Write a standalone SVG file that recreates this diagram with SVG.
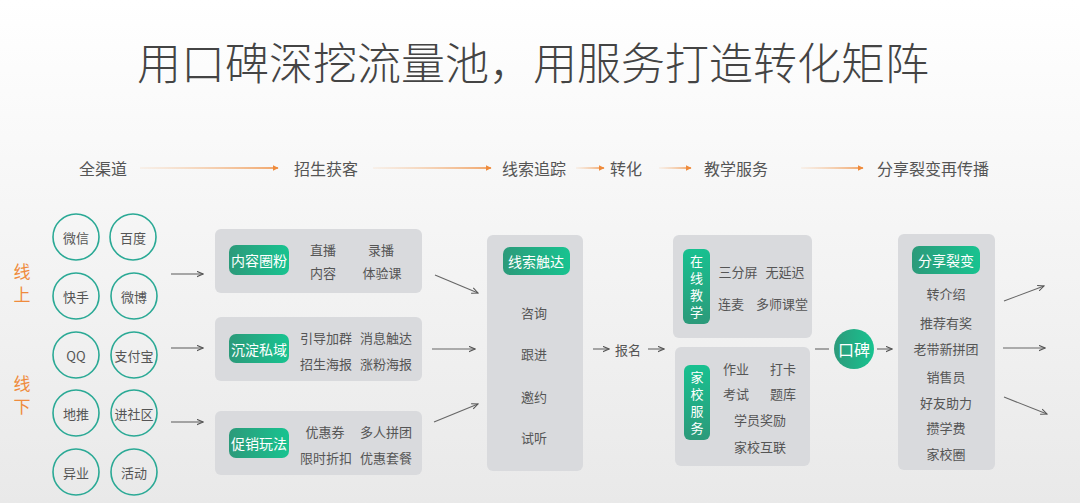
<svg xmlns="http://www.w3.org/2000/svg" width="1080" height="503" viewBox="0 0 1080 503">
<defs>
<linearGradient id="bg" x1="0" y1="0" x2="0" y2="1">
<stop offset="0" stop-color="#ffffff"/>
<stop offset="1" stop-color="#e9e9e9"/>
</linearGradient>
<linearGradient id="grn" x1="0" y1="0" x2="1" y2="0">
<stop offset="0" stop-color="#2c9a7a"/>
<stop offset="1" stop-color="#18c390"/>
</linearGradient>
<linearGradient id="grnv" x1="0" y1="0" x2="0" y2="1">
<stop offset="0" stop-color="#18c090"/>
<stop offset="1" stop-color="#2c9a7a"/>
</linearGradient>
<linearGradient id="org" x1="0" y1="0" x2="1" y2="0">
<stop offset="0" stop-color="#f3b27a" stop-opacity="0.15"/>
<stop offset="1" stop-color="#ef8b3c"/>
</linearGradient>
<marker id="ao" viewBox="0 0 10 10" refX="9" refY="5" markerWidth="6" markerHeight="6" orient="auto" markerUnits="userSpaceOnUse">
<path d="M0,0 L10,5 L0,10 z" fill="#ef8b3c"/>
</marker>
<marker id="ag" viewBox="0 0 10 10" refX="9" refY="5" markerWidth="7" markerHeight="7" orient="auto" markerUnits="userSpaceOnUse">
<path d="M0,1 L9,5 L0,9" fill="none" stroke="#555" stroke-width="1.5"/>
</marker>
</defs>
<style>
text{font-family:"Noto Sans CJK SC","Noto Sans",sans-serif;fill:#555;dominant-baseline:central;text-anchor:middle}
.title{font-size:44px;font-weight:300;fill:#444}
.hd{font-size:16px}
.side{font-size:17px;fill:#ef8b3c}
.ct{font-size:13px}
.it{font-size:13px}
.wt{font-size:14px;fill:#fff}
.vt{font-size:13px;fill:#fff;writing-mode:vertical-rl;letter-spacing:4px}
.circ{fill:none;stroke:#2aa995;stroke-width:1.6}
.box{fill:#d9dadd}
.hl{stroke:url(#org);stroke-width:1.6;fill:none}
.cn{stroke:#666;stroke-width:1.1;fill:none}
</style>
<rect x="0" y="0" width="1080" height="503" fill="url(#bg)"/>
<text class="title" x="533" y="61">用口碑深挖流量池，用服务打造转化矩阵</text>

<g id="header">
<text class="hd" x="103" y="168">全渠道</text>
<text class="hd" x="326" y="168">招生获客</text>
<text class="hd" x="534" y="168">线索追踪</text>
<text class="hd" x="626" y="168">转化</text>
<text class="hd" x="736" y="168">教学服务</text>
<text class="hd" x="933" y="168">分享裂变再传播</text>
</g>

<g id="side-labels">
<text class="side" x="22" y="270">线</text>
<text class="side" x="22" y="293">上</text>
<text class="side" x="22" y="382">线</text>
<text class="side" x="22" y="405">下</text>
</g>

<g id="channels">
<circle class="circ" cx="76" cy="237" r="23"/><text class="ct" x="76" y="237">微信</text>
<circle class="circ" cx="133" cy="237" r="23"/><text class="ct" x="133" y="237">百度</text>
<circle class="circ" cx="76" cy="296" r="23"/><text class="ct" x="76" y="296">快手</text>
<circle class="circ" cx="134" cy="296" r="23"/><text class="ct" x="134" y="296">微博</text>
<circle class="circ" cx="76" cy="355" r="23"/><text class="ct" x="76" y="355">QQ</text>
<circle class="circ" cx="134" cy="355" r="23"/><text class="ct" x="134" y="355">支付宝</text>
<circle class="circ" cx="76" cy="413" r="23"/><text class="ct" x="76" y="413">地推</text>
<circle class="circ" cx="134" cy="413" r="23"/><text class="ct" x="134" y="413">进社区</text>
<circle class="circ" cx="76" cy="472" r="23"/><text class="ct" x="76" y="472">异业</text>
<circle class="circ" cx="134" cy="472" r="23"/><text class="ct" x="134" y="472">活动</text>
</g>

<g id="box-content">
<rect class="box" x="215" y="229" width="207" height="64" rx="6"/>
<rect x="229" y="245" width="60" height="30" rx="7" fill="url(#grn)"/>
<text class="wt" x="259" y="260">内容圈粉</text>
<text class="it" x="323" y="249">直播</text>
<text class="it" x="381" y="249">录播</text>
<text class="it" x="323" y="272">内容</text>
<text class="it" x="382" y="272">体验课</text>
</g>
<g id="box-private">
<rect class="box" x="215" y="317" width="207" height="64" rx="6"/>
<rect x="229" y="334" width="60" height="29" rx="7" fill="url(#grn)"/>
<text class="wt" x="259" y="349">沉淀私域</text>
<text class="it" x="326" y="337">引导加群</text>
<text class="it" x="386" y="337">消息触达</text>
<text class="it" x="326" y="363">招生海报</text>
<text class="it" x="386" y="363">涨粉海报</text>
</g>
<g id="box-promo">
<rect class="box" x="215" y="411" width="207" height="64" rx="6"/>
<rect x="229" y="428" width="60" height="30" rx="7" fill="url(#grn)"/>
<text class="wt" x="259" y="443">促销玩法</text>
<text class="it" x="325" y="431">优惠券</text>
<text class="it" x="386" y="431">多人拼团</text>
<text class="it" x="326" y="457">限时折扣</text>
<text class="it" x="386" y="457">优惠套餐</text>
</g>

<g id="box-leads">
<rect class="box" x="487" y="235" width="96" height="236" rx="6"/>
<rect x="503" y="247" width="67" height="28" rx="7" fill="url(#grn)"/>
<text class="wt" x="536" y="261">线索触达</text>
<text class="it" x="534" y="312">咨询</text>
<text class="it" x="534" y="353">跟进</text>
<text class="it" x="534" y="396">邀约</text>
<text class="it" x="534" y="437">试听</text>
</g>

<g id="signup">
<text class="it" x="628" y="349">报名</text>
</g>

<g id="box-online">
<rect class="box" x="673" y="235" width="139" height="103" rx="6"/>
<rect x="683" y="249" width="27" height="75" rx="6" fill="url(#grnv)"/>
<text class="vt" x="696.5" y="288.5">在线教学</text>
<text class="it" x="738" y="271">三分屏</text>
<text class="it" x="785" y="271">无延迟</text>
<text class="it" x="731" y="303">连麦</text>
<text class="it" x="782" y="303">多师课堂</text>
</g>
<g id="box-homeschool">
<rect class="box" x="675" y="347" width="135" height="119" rx="6"/>
<rect x="684" y="365" width="26" height="75" rx="6" fill="url(#grnv)"/>
<text class="vt" x="697" y="404.5">家校服务</text>
<text class="it" x="736" y="368">作业</text>
<text class="it" x="783" y="368">打卡</text>
<text class="it" x="736" y="393">考试</text>
<text class="it" x="783" y="393">题库</text>
<text class="it" x="760" y="419">学员奖励</text>
<text class="it" x="760" y="446">家校互联</text>
</g>

<g id="koubei">
<circle cx="854" cy="349" r="20" fill="url(#grn)"/>
<text x="854" y="349" style="font-size:16px;fill:#fff">口碑</text>
</g>

<g id="box-share">
<rect class="box" x="898" y="234" width="97" height="236" rx="6"/>
<rect x="912" y="246" width="68" height="28" rx="7" fill="url(#grn)"/>
<text class="wt" x="946" y="260">分享裂变</text>
<text class="it" x="946" y="293">转介绍</text>
<text class="it" x="946" y="322">推荐有奖</text>
<text class="it" x="946" y="348">老带新拼团</text>
<text class="it" x="946" y="376">销售员</text>
<text class="it" x="946" y="402">好友助力</text>
<text class="it" x="946" y="427">攒学费</text>
<text class="it" x="946" y="453">家校圈</text>
</g>

<g id="connectors">
<line class="hl" x1="140" y1="168" x2="278" y2="168.01" marker-end="url(#ao)"/>
<line class="hl" x1="373" y1="168" x2="491" y2="168.01" marker-end="url(#ao)"/>
<line class="hl" x1="576" y1="168" x2="604" y2="168.01" marker-end="url(#ao)"/>
<line class="hl" x1="659" y1="168" x2="691" y2="168.01" marker-end="url(#ao)"/>
<line class="hl" x1="801" y1="168" x2="863" y2="168.01" marker-end="url(#ao)"/>

<line class="cn" x1="171" y1="274" x2="203" y2="274" marker-end="url(#ag)"/>
<line class="cn" x1="171" y1="348" x2="203" y2="348" marker-end="url(#ag)"/>
<line class="cn" x1="171" y1="422" x2="203" y2="422" marker-end="url(#ag)"/>

<line class="cn" x1="435" y1="275" x2="478" y2="293" marker-end="url(#ag)"/>
<line class="cn" x1="432" y1="349" x2="475" y2="349" marker-end="url(#ag)"/>
<line class="cn" x1="434" y1="422" x2="478" y2="404" marker-end="url(#ag)"/>

<line class="cn" x1="593" y1="349" x2="609" y2="349" marker-end="url(#ag)"/>
<line class="cn" x1="648" y1="349" x2="664" y2="349" marker-end="url(#ag)"/>

<line class="cn" x1="815" y1="349" x2="829" y2="349"/>
<line class="cn" x1="877" y1="349" x2="892" y2="349" marker-end="url(#ag)"/>

<line class="cn" x1="1004" y1="301" x2="1044" y2="286" marker-end="url(#ag)"/>
<line class="cn" x1="1003" y1="348" x2="1045" y2="348" marker-end="url(#ag)"/>
<line class="cn" x1="1004" y1="397" x2="1047" y2="414" marker-end="url(#ag)"/>
</g>
</svg>
